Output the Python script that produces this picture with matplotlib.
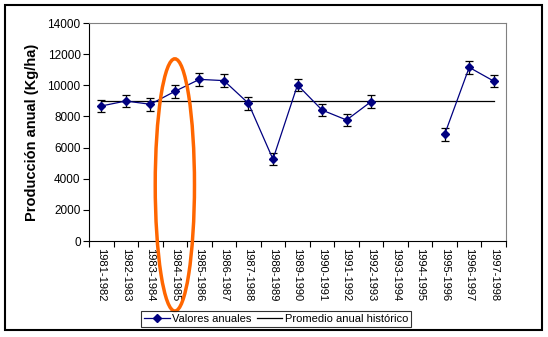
import matplotlib
matplotlib.use("Agg")
import matplotlib.pyplot as plt
from matplotlib.patches import Ellipse, Rectangle
from matplotlib.lines import Line2D
import numpy as np

plt.rcParams['font.family'] = ['Liberation Sans', 'DejaVu Sans']

categories = ["1981-1982", "1982-1983", "1983-1984", "1984-1985", "1985-1986",
              "1986-1987", "1987-1988", "1988-1989", "1989-1990", "1990-1991",
              "1991-1992", "1992-1993", "1993-1994", "1994-1995", "1995-1996",
              "1996-1997", "1997-1998"]
valores = [8670, 8990, 8780, 9610, 10380, 10300, 8840, 5250, 10020, 8410,
           7770, 8950, np.nan, np.nan, 6850, 11150, 10270]
error = [400] * 17
promedio = 8990
highlight = "1984-1985"

W, H = 548, 337
fig = plt.figure(figsize=(W/100, H/100), dpi=100)
# outer frame
fig.patches.append(Rectangle((5/W, 1-330/H), 537/W, 325/H, transform=fig.transFigure,
                             fill=False, edgecolor='black', linewidth=1.5))

ax = fig.add_axes([89/W, 1-241/H, (506-89)/W, (241-23)/H])
x = np.arange(len(categories))
vals = np.array(valores, dtype=float)
navy = '#000080'

ax.plot(x, vals, color=navy, linewidth=0.9, marker='D', markersize=4.5,
        markerfacecolor=navy, markeredgecolor=navy, zorder=3)
ax.errorbar(x, vals, yerr=error, fmt='none', ecolor='black', elinewidth=0.9,
            capsize=3, capthick=0.9, zorder=2)
ax.plot(x, [promedio]*len(x), color='black', linewidth=0.9, zorder=1)

ax.set_xlim(-0.5, len(categories)-0.5)
ax.set_ylim(0, 14000)
ax.set_yticks(np.arange(0, 14001, 2000))
ax.tick_params(axis='y', labelsize=8.5, length=4, width=0.8, direction='out', pad=2)
ax.set_xticks(x)
ax.set_xticklabels(categories, rotation=270, fontsize=8)
ax.tick_params(axis='x', length=0, pad=5)
ax.set_xticks(np.arange(-0.5, len(categories)), minor=True)
ax.tick_params(axis='x', which='minor', length=4, width=0.8, direction='out')
for s in ['top', 'right']:
    ax.spines[s].set_color('#808080')
ax.spines['left'].set_linewidth(0.8)
ax.spines['bottom'].set_linewidth(0.8)
ax.set_ylabel("Producción anual (Kg/ha)", fontsize=10.5, fontweight='bold', labelpad=6)

# orange ellipse highlight
hi = categories.index(highlight)
ell = Ellipse((hi, 3600), width=1.6, height=16200, fill=False, edgecolor='#FF6600',
              linewidth=2.5, clip_on=False, zorder=5)
ax.add_patch(ell)

handles = [Line2D([], [], color=navy, marker='D', markersize=4, linewidth=0.9),
           Line2D([], [], color='black', linewidth=0.9)]
leg = fig.legend(handles, ["Valores anuales", "Promedio anual histórico"],
                 loc='center', bbox_to_anchor=(276/W, 1-319/H), ncol=2, fontsize=8,
                 frameon=True, fancybox=False, edgecolor='black', handlelength=2.3,
                 columnspacing=0.5, handletextpad=0.2, borderpad=0.3, borderaxespad=0)
leg.get_frame().set_linewidth(0.8)

fig.savefig("out.png", dpi=100)
